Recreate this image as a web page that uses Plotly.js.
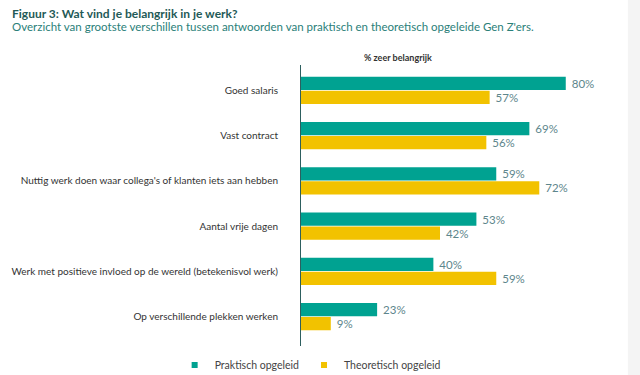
<!DOCTYPE html>
<html>
<head>
<meta charset="utf-8">
<script src="https://cdn.plot.ly/plotly-3.0.1.min.js"></script>
<style>html,body{margin:0;padding:0;background:#fff;}#chart{width:640px;height:375px;}</style>
</head>
<body>
<div id="chart"></div>
<script>
const categories = [
  "Goed salaris",
  "Vast contract",
  "Nuttig werk doen waar collega's of klanten iets aan hebben",
  "Aantal vrije dagen",
  "Werk met positieve invloed op de wereld (betekenisvol werk)",
  "Op verschillende plekken werken"
];
const praktisch = [80, 69, 59, 53, 40, 23];
const theoretisch = [57, 56, 72, 42, 59, 9];
const seriesNames = ["Praktisch opgeleid", "Theoretisch opgeleid"];
const axisTitle = "% zeer belangrijk";
const chartTitle = "Figuur 3: Wat vind je belangrijk in je werk?";
const chartSubtitle = "Overzicht van grootste verschillen tussen antwoorden van praktisch en theoretisch opgeleide Gen Z'ers.";

const teal = "#00a291";
const yellow = "#f2c200";
const labelColor = "#5d868c";
const FONT = "Lato, 'Open Sans', sans-serif";

function barTrace(vals, name, color) {
  return {
    type: "bar", orientation: "h", name: name,
    y: categories, x: vals,
    marker: {color: color},
    text: vals.map(v => " " + v + "%"),
    textposition: "outside",
    textfont: {family: FONT, size: 11.5, color: labelColor},
    cliponaxis: false,
    showlegend: false,
    hoverinfo: "skip"
  };
}
function legendTrace(name, color) {
  return {
    type: "scatter", mode: "markers", name: name,
    x: [null], y: [null],
    marker: {symbol: "square", size: 6, color: color},
    showlegend: true
  };
}

const data = [
  barTrace(praktisch, seriesNames[0], teal),
  barTrace(theoretisch, seriesNames[1], yellow),
  legendTrace(seriesNames[0], teal),
  legendTrace(seriesNames[1], yellow)
];

const layout = {
  width: 640, height: 375,
  margin: {l: 301, r: 15, t: 65, b: 29, autoexpand: false},
  paper_bgcolor: "#ffffff", plot_bgcolor: "#ffffff",
  font: {family: FONT, size: 10, color: "#333333"},
  barmode: "group", bargap: 0.38, bargroupgap: 0.05,
  xaxis: {range: [0, 97.9], showgrid: false, zeroline: false, showline: false, showticklabels: false, ticks: "", fixedrange: true},
  yaxis: {
    type: "category", categoryorder: "array", categoryarray: categories,
    range: [5.65, -0.56],
    showline: true, linecolor: "#2d5f5f", linewidth: 1,
    showgrid: false, zeroline: false, ticks: "",
    ticklabelstandoff: 20,
    tickfont: {family: FONT, size: 10, color: "#333333"},
    fixedrange: true
  },
  showlegend: true,
  legend: {orientation: "h", x: -0.39, xanchor: "left", y: -0.068, yanchor: "middle",
           font: {family: FONT, size: 10.5, color: "#444444"}, itemwidth: 30, bgcolor: "rgba(0,0,0,0)"},
  shapes: [{type: "rect", xref: "paper", yref: "paper", x0: 1.009, x1: 1.05, y0: -0.2, y1: 1.3,
            fillcolor: "#f4f4f4", line: {width: 0}, layer: "below"}],
  annotations: [
    {xref: "paper", yref: "paper", x: 0.3, y: 1.0, xanchor: "center", yanchor: "bottom", yshift: 0,
     text: "<b>" + axisTitle + "</b>", showarrow: false, font: {family: FONT, size: 9, color: "#333333"}},
    {xref: "paper", yref: "paper", x: -0.898, y: 1.185, xanchor: "left", yanchor: "middle",
     text: "<b>" + chartTitle + "</b>", showarrow: false, font: {family: FONT, size: 12, color: "#1f5a57"}},
    {xref: "paper", yref: "paper", x: -0.898, y: 1.136, xanchor: "left", yanchor: "middle",
     text: chartSubtitle, showarrow: false, font: {family: FONT, size: 11.5, color: "#2a8079"}}
  ]
};

Plotly.newPlot("chart", data, layout, {displayModeBar: false, staticPlot: true});
</script>
</body>
</html>
